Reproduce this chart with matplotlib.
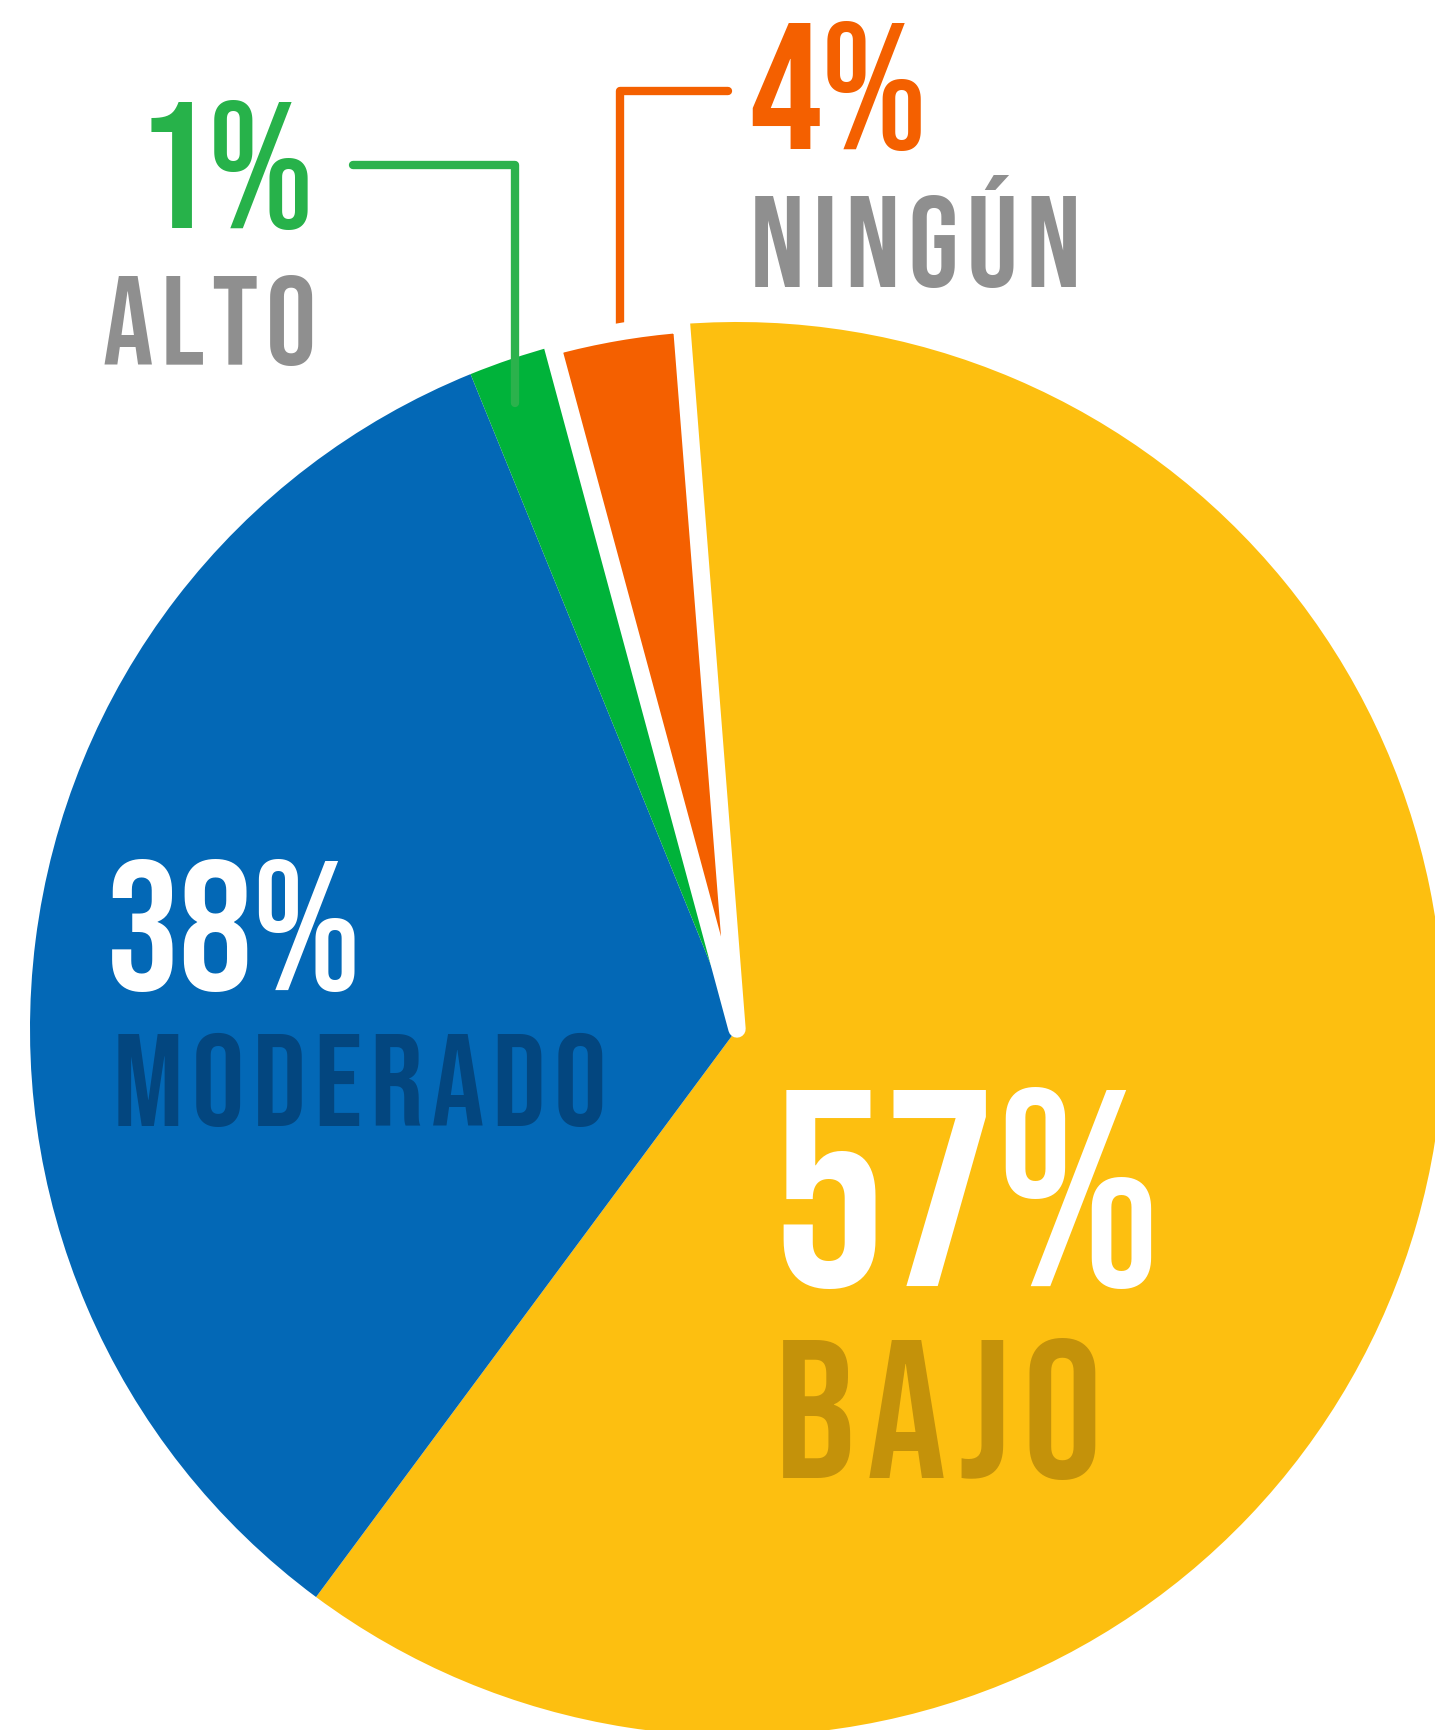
import matplotlib.pyplot as plt
from matplotlib import font_manager
from matplotlib.ft2font import FT2Font

# slice shares as drawn (the printed labels differ slightly)
categories = ['BAJO', 'MODERADO', 'ALTO', 'NINGÚN']
shares = [61.4, 33.7, 1.95, 2.95]
pct_labels = ['57%', '38%', '1%', '4%']
colors = ['#FDBF10', '#0368B6', '#00B33A', '#F46000']

W, H = 1435, 1730

# pick a tall condensed face, like the one in the original
available = {f.name for f in font_manager.fontManager.ttflist}
FONT = 'DejaVu Sans'
for cand in ['Bebas Neue', 'Oswald', 'Barlow Condensed']:
    if cand in available:
        FONT = cand
        break


def open_font(family):
    f = FT2Font(font_manager.findfont(font_manager.FontProperties(family=family, weight='bold')))
    f.set_size(1000, 72)
    return f


ft = open_font(FONT)
ft.set_text('H', 0.0)
cap_ratio = ft.get_width_height()[1] / 64 / 1000

# the labels are letter-spaced by about 0.065 em: find a narrow space glyph
# (from a fallback family) that comes close
TRACK = 0.065
best = (1.0, '', FONT)
for fam in ['Inter', 'Noto Sans', 'Roboto', 'Open Sans', 'Lato', 'DejaVu Sans', 'Liberation Sans']:
    if fam not in available:
        continue
    f = open_font(fam)
    cmap = f.get_charmap()
    for c in ['\u200a', '\u2009', '\u2006', '\u2005', '\u202f']:
        if ord(c) in cmap:
            adv = f.load_char(ord(c)).linearHoriAdvance / 65536 / 1000
            if abs(adv - TRACK) < best[0]:
                best = (abs(adv - TRACK), c, fam)
SP, SP_FAMILY = best[1], best[2]

fig = plt.figure(figsize=(W / 100, H / 100), dpi=100)
ax = fig.add_axes([0, 0, 1, 1])

wedges, _ = ax.pie(shares, colors=colors, startangle=94.5, counterclock=False,
                   center=(737, H - 1029), radius=707)
# white outline only around the small orange slice
wedges[3].set_edgecolor('white')
wedges[3].set_linewidth(12.5)
wedges[3].set_joinstyle('round')
wedges[3].set_zorder(3)

ax.set_xlim(0, W)
ax.set_ylim(0, H)
ax.set_aspect('equal')
ax.axis('off')


def label(x, y, s, cap_px, color, spaced=False):
    # x, y in pixels from top-left, y = baseline; size from cap height
    size = cap_px / cap_ratio * 0.72
    fam = [FONT]
    if spaced:
        s = SP.join(s)
        if SP_FAMILY != FONT:
            fam = [FONT, SP_FAMILY]
    ax.text(x, H - y, s, fontsize=size, color=color, family=fam,
            fontweight='bold', ha='left', va='baseline', zorder=5)


# leader lines
ax.plot([353, 515, 515], [H - 165, H - 165, H - 403], color='#2BB24C', lw=6,
        solid_capstyle='round', solid_joinstyle='round', zorder=4)
ax.plot([728, 620, 620], [H - 91, H - 91, H - 336], color='#F46000', lw=6,
        solid_capstyle='round', solid_joinstyle='round', zorder=2)

label(137, 228, pct_labels[2], 126, '#27B24A')
label(103, 365, categories[2], 88, '#8F8F8F', True)
label(749, 149, pct_labels[3], 126, '#F46000')
label(750, 287, categories[3], 90, '#8F8F8F', True)
label(106, 990, pct_labels[1], 129, 'white')
label(113, 1126, categories[1], 92, '#03467F', True)
label(772, 1286, pct_labels[0], 196, 'white')
label(775, 1478, categories[0], 138, '#C4920A', True)

fig.savefig('out.png', dpi=100)
